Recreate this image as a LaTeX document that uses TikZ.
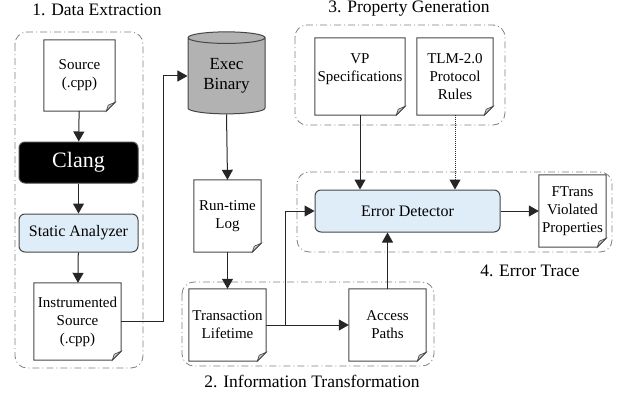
\documentclass[tikz,border=0pt]{standalone}
\usepackage{fontspec}
\setmainfont{Liberation Serif}
\usetikzlibrary{arrows.meta,shapes.geometric}
\definecolor{procblue}{RGB}{222,237,248}
\definecolor{edgegray}{RGB}{70,70,70}
\newcommand{\drawdoc}[1] {
  % page outline with the dog-ear cut at the bottom right
  \draw[edgegray, line width=1pt] (#1.north west) -- (#1.north east)
    -- ([yshift=9]#1.south east) -- ([xshift=-9]#1.south east)
    -- (#1.south west) -- cycle;
  \draw[edgegray, fill=gray!45, line width=0.6pt] ([yshift=9]#1.south east)
    -- ([xshift=-9]#1.south east) -- ([xshift=-7,yshift=6]#1.south east) -- cycle;
}
\newcommand{\drawstage}[2] {
  \draw[stagebox] #1 rectangle #2; % dash-dot frame of one stage
}

\begin{document}
\begin{tikzpicture}[x=1pt, y=-1pt,
    docnode/.style={inner sep=0pt, align=center, font=\fontsize{15}{18}\selectfont},
    procbox/.style={draw=edgegray, line width=1pt, rounded corners=6pt, fill=procblue,
      inner sep=0pt, font=\fontsize{16}{19}\selectfont},
    stagebox/.style={gray, line width=0.8pt, rounded corners=12pt,
      dash pattern=on 7pt off 3pt on 1pt off 3pt},
    stagelabel/.style={font=\fontsize{17.5}{20}\selectfont},
    flow/.style={-{Triangle[length=10pt,width=11pt]}, line width=1pt, black!85}]
    \useasboundingbox (0,0) rectangle (618,399);
    % stage frames
    \drawstage{(15,32)}{(143,368)}
    \drawstage{(182,282)}{(434,366)}
    \drawstage{(295,25)}{(505,125)}
    \drawstage{(297,172)}{(612,252)}
    \node[stagelabel] (lab1) at (97,10) {1. Data Extraction};
    \node[stagelabel] (lab2) at (312,381) {2. Information Transformation};
    \node[stagelabel] (lab3) at (409,9) {3. Property Generation};
    \node[stagelabel] (lab4) at (530,271) {4. Error Trace};
    % documents
    \node[docnode, minimum width=71, minimum height=71] (src) at (79.5,75.5) {Source\\(.cpp)};
    \node[docnode, minimum width=87, minimum height=77] (ins) at (77.5,321.5) {Instrumented\\Source\\(.cpp)};
    \node[docnode, minimum width=67, minimum height=72] (log) at (227.5,216) {Run-time\\Log};
    \node[docnode, minimum width=77, minimum height=72] (tl) at (227.5,325) {Transaction\\Lifetime};
    \node[docnode, minimum width=77, minimum height=72] (ap) at (387.5,325) {Access\\Paths};
    \node[docnode, minimum width=90, minimum height=77] (vp) at (360,76.5) {VP\\Specifications\\~};
    \node[docnode, minimum width=76, minimum height=77] (tlm) at (455,76.5) {TLM-2.0\\Protocol\\Rules};
    \node[docnode, minimum width=67, minimum height=72] (ft) at (572.5,211) {FTrans\\Violated\\Properties};
    \foreach \d in {src,ins,log,tl,ap,vp,tlm,ft} {
      \drawdoc{\d}
    }
    % processing steps
    \node[procbox, fill=black, text=white, minimum width=119, minimum height=41,
      font=\fontsize{22}{24}\selectfont] (clang) at (78.5,162.5) {Clang};
    \node[procbox, minimum width=119, minimum height=38] (sa) at (78.5,233) {Static Analyzer};
    \node[procbox, minimum width=185, minimum height=42] (ed) at (407.5,211) {Error Detector};
    \node[cylinder, shape border rotate=90, aspect=0.25, draw=edgegray, line width=1pt,
      fill=gray!60, minimum width=77, minimum height=82, inner sep=0pt, align=center,
      font=\fontsize{17}{20}\selectfont] (exec) at (226.5,76) {Exec\\Binary};
    % connections
    \coordinate (bend) at (163,321.5);
    \coordinate (split) at (285,325);
    \draw[flow] (src) -- (clang);
    \draw[flow] (clang) -- (sa);
    \draw[flow] (sa) -- (ins);
    \draw[flow] (ins.east) -- (bend) |- (exec.west);
    \draw[flow] (exec.south) -- (log.north);
    \draw[flow] (log) -- (tl);
    \draw[flow] (tl.east) -- (ap.west);
    \draw[flow] (split) |- (ed.west);
    \draw[flow] (ap.north) -- (ap.north |- ed.south);
    \draw[flow] (vp.south) -- (vp.south |- ed.north);
    \draw[flow, densely dotted] (tlm.south) -- (tlm.south |- ed.north);
    \draw[flow] (ed) -- (ft);
\end{tikzpicture}
\end{document}
